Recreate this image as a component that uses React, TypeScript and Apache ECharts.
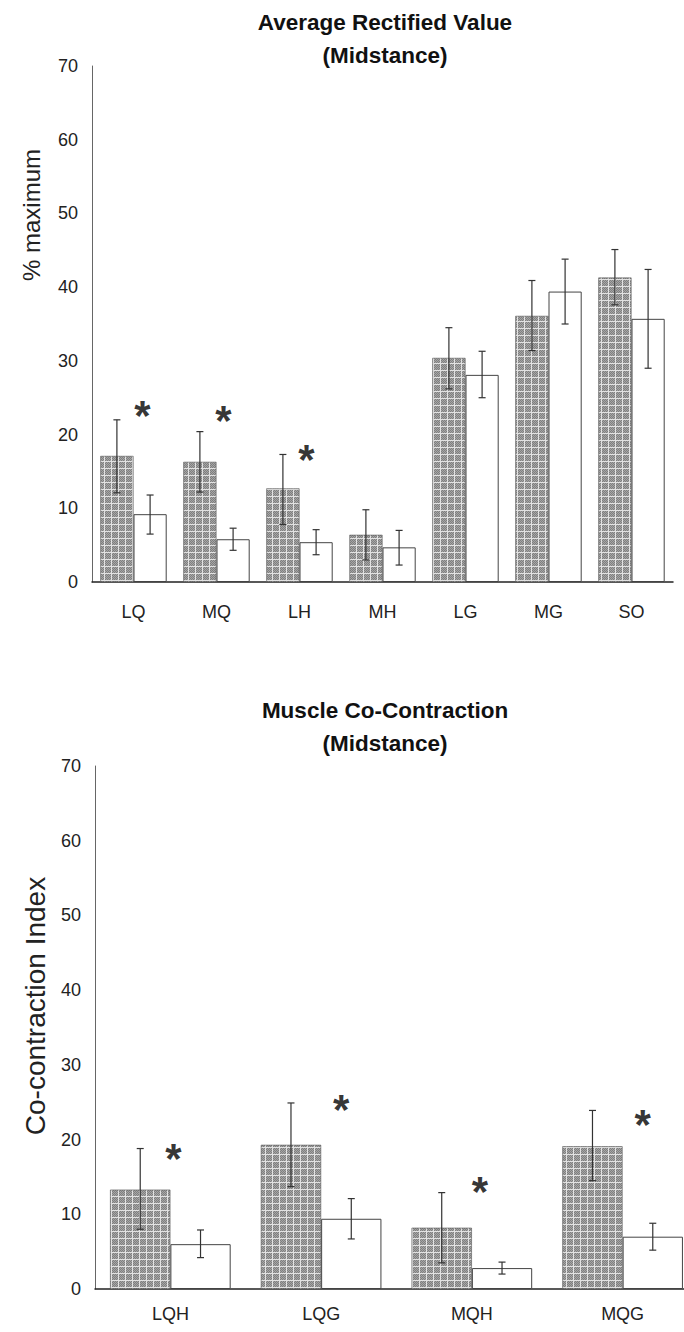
import React, { useEffect, useRef } from "react";
import * as echarts from "echarts";

// ---- Top chart: Average Rectified Value (Midstance) ----
const topCategories = ["LQ", "MQ", "LH", "MH", "LG", "MG", "SO"];
const topDark = [17.1, 16.3, 12.7, 6.4, 30.4, 36.1, 41.3];
const topDarkLow = [12.1, 12.2, 7.8, 3.0, 26.2, 31.4, 37.6];
const topDarkHigh = [22.0, 20.4, 17.3, 9.8, 34.5, 40.9, 45.1];
const topWhite = [9.2, 5.8, 5.4, 4.7, 28.1, 39.4, 35.7];
const topWhiteLow = [6.5, 4.3, 3.7, 2.3, 25.0, 35.0, 29.0];
const topWhiteHigh = [11.8, 7.3, 7.1, 7.0, 31.3, 43.8, 42.4];
const topStars = [23.6, 22.8, 17.6, null, null, null, null];
const topTicks = [0, 10, 20, 30, 40, 50, 60, 70];

// ---- Bottom chart: Muscle Co-Contraction (Midstance) ----
const botCategories = ["LQH", "LQG", "MQH", "MQG"];
const botDark = [13.3, 19.3, 8.2, 19.1];
const botDarkLow = [8.0, 13.7, 3.5, 14.5];
const botDarkHigh = [18.8, 24.9, 12.9, 23.9];
const botWhite = [6.0, 9.4, 2.8, 7.0];
const botWhiteLow = [4.2, 6.7, 2.0, 5.2];
const botWhiteHigh = [7.9, 12.1, 3.6, 8.8];
const botStars = [18.4, 25.0, 14.0, 23.0];
const botTicks = [0, 10, 20, 30, 40, 50, 60, 70];

const FONT = "'Liberation Sans', Arial, sans-serif";

function makePattern(): string {
  const c = document.createElement("canvas");
  c.width = 7;
  c.height = 7;
  const ctx = c.getContext("2d")!;
  ctx.fillStyle = "#7f7f7f";
  ctx.fillRect(0, 0, 7, 7);
  ctx.fillStyle = "#a6a6a6";
  for (let y = 0; y < 6; y++) {
    for (let x = 0; x < 6; x++) {
      if ((x + y) % 2 === 0) ctx.fillRect(x, y, 1, 1);
    }
  }
  ctx.fillStyle = "#e2e2e2";
  ctx.fillRect(0, 6, 7, 1);
  ctx.fillRect(6, 0, 1, 7);
  return c.toDataURL();
}

export default function App() {
  const ref = useRef<HTMLDivElement>(null);
  useEffect(() => {
    document.body.style.margin = "0";
    const chart = echarts.init(ref.current!, undefined, { renderer: "svg" });
    const pattern = { image: makePattern(), repeat: "repeat" } as any;

    const errSeries = (
      xAxisIndex: number,
      low: number[],
      high: number[],
      side: number
    ) => ({
      type: "custom",
      xAxisIndex,
      yAxisIndex: xAxisIndex,
      z: 5,
      data: low.map((l, i) => [i, l, high[i]]),
      renderItem: (params: any, api: any) => {
        const i = api.value(0);
        const lo = api.coord([i, api.value(1)]);
        const hi = api.coord([i, api.value(2)]);
        const band = api.size([1, 0])[0];
        const x = lo[0] + (side * band * 0.8) / 4;
        const cap = 3.5;
        const st = { stroke: "#333", lineWidth: 1.2 };
        return {
          type: "group",
          children: [
            { type: "line", shape: { x1: x, y1: lo[1], x2: x, y2: hi[1] }, style: st },
            { type: "line", shape: { x1: x - cap, y1: lo[1], x2: x + cap, y2: lo[1] }, style: st },
            { type: "line", shape: { x1: x - cap, y1: hi[1], x2: x + cap, y2: hi[1] }, style: st },
          ],
        };
      },
    });

    const starSeries = (xAxisIndex: number, stars: (number | null)[], offsets: number[]) => ({
      type: "scatter",
      xAxisIndex,
      yAxisIndex: xAxisIndex,
      symbolSize: 0,
      z: 6,
      data: stars.map((v, i) =>
        v == null
          ? null
          : {
              value: [i, v],
              label: { offset: [offsets[i], 7] },
            }
      ),
      label: {
        show: true,
        position: "inside",
        formatter: "*",
        fontSize: 42,
        fontWeight: "bold",
        fontFamily: FONT,
        color: "#000",
      },
    });

    const yAxisBase = (gridIndex: number, ticks: number[], pad: number) => ({
      type: "value",
      gridIndex,
      min: ticks[0],
      max: ticks[ticks.length - 1],
      interval: 10,
      axisLine: { show: true, lineStyle: { color: "#666", width: 1 } },
      axisTick: { show: false },
      splitLine: { show: false },
      axisLabel: {
        fontSize: 18,
        color: "#222",
        fontFamily: FONT,
        margin: 14,
        padding: [pad, 0, 0, 0],
      },
    });

    const xAxisBase = (gridIndex: number, cats: string[], margin: number) => ({
      type: "category",
      gridIndex,
      data: cats,
      axisLine: { show: true, lineStyle: { color: "#222", width: 1.5 } },
      axisTick: { show: false },
      axisLabel: { fontSize: 18, color: "#222", fontFamily: FONT, margin },
    });

    const darkStyle = { color: pattern, borderColor: "#555", borderWidth: 0.6 };
    const whiteStyle = { color: "#fff", borderColor: "#444", borderWidth: 1 };

    chart.setOption({
      animation: false,
      backgroundColor: "#fff",
      title: [
        {
          text: "Average Rectified Value\n(Midstance)",
          left: 380,
          top: 1,
          textAlign: "center",
          textStyle: { fontSize: 22.5, fontWeight: "bold", fontFamily: FONT, color: "#111", lineHeight: 33 },
        },
        {
          text: "Muscle Co-Contraction\n(Midstance)",
          left: 380,
          top: 689,
          textAlign: "center",
          textStyle: { fontSize: 22.5, fontWeight: "bold", fontFamily: FONT, color: "#111", lineHeight: 33 },
        },
      ],
      grid: [
        { left: 92, top: 66, width: 581, height: 516 },
        { left: 95, top: 766, width: 603, height: 523 },
      ],
      xAxis: [xAxisBase(0, topCategories, 21), xAxisBase(1, botCategories, 16)],
      yAxis: [yAxisBase(0, topTicks, 8), yAxisBase(1, botTicks, 4)],
      graphic: [
        {
          type: "text",
          x: 31,
          y: 215,
          rotation: Math.PI / 2,
          style: {
            text: "% maximum",
            fontSize: 24,
            fontFamily: FONT,
            fill: "#222",
            textAlign: "center",
            textVerticalAlign: "middle",
          },
        },
        {
          type: "text",
          x: 35,
          y: 1006,
          rotation: Math.PI / 2,
          style: {
            text: "Co-contraction Index",
            fontSize: 28,
            fontFamily: FONT,
            fill: "#222",
            textAlign: "center",
            textVerticalAlign: "middle",
          },
        },
      ],
      series: [
        { type: "bar", xAxisIndex: 0, yAxisIndex: 0, data: topDark, barGap: "0%", barCategoryGap: "20%", itemStyle: darkStyle },
        { type: "bar", xAxisIndex: 0, yAxisIndex: 0, data: topWhite, barGap: "0%", barCategoryGap: "20%", itemStyle: whiteStyle },
        errSeries(0, topDarkLow, topDarkHigh, -1),
        errSeries(0, topWhiteLow, topWhiteHigh, 1),
        starSeries(0, topStars, [9, 7, 7, 0, 0, 0, 0]),
        { type: "bar", xAxisIndex: 1, yAxisIndex: 1, data: botDark, barGap: "0%", barCategoryGap: "20%", itemStyle: darkStyle },
        { type: "bar", xAxisIndex: 1, yAxisIndex: 1, data: botWhite, barGap: "0%", barCategoryGap: "20%", itemStyle: whiteStyle },
        errSeries(1, botDarkLow, botDarkHigh, -1),
        errSeries(1, botWhiteLow, botWhiteHigh, 1),
        starSeries(1, botStars, [3, 20, 8, 20]),
      ],
    });
    return () => chart.dispose();
  }, []);
  return (
    <div style={{ width: 684, height: 1332, position: "absolute", left: 0, top: 0, overflow: "hidden" }}>
      <div ref={ref} style={{ width: 720, height: 1332 }} />
    </div>
  );
}
